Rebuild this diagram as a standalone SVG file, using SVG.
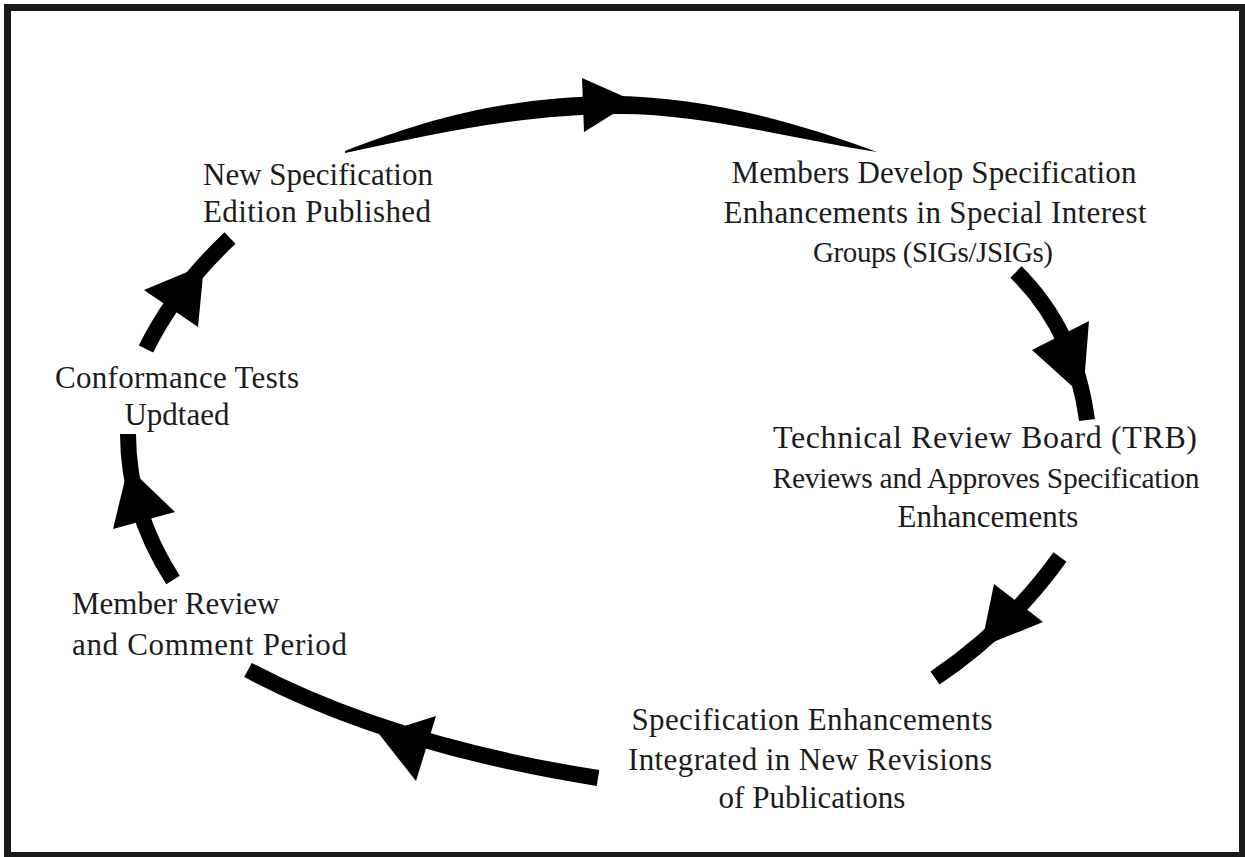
<svg xmlns="http://www.w3.org/2000/svg" width="1245" height="857" viewBox="0 0 1245 857">
  <style>
    .frame { fill: #ffffff; stroke: #1a1a1a; stroke-width: 7; }
    .shaft { fill: none; stroke: #000000; stroke-width: 16; stroke-linecap: butt; }
    .band { fill: #000000; }
    .head { fill: #000000; }
    .label { font-family: "Liberation Serif", "DejaVu Serif", serif; font-size: 31px; fill: #1c1c1c; text-anchor: middle; }
    .left { text-anchor: start; }
    .small { font-size: 29px; }
    .narrow { font-size: 29.5px; }
    .large { font-size: 32px; }
  </style>

  <rect class="frame" x="7.5" y="7.5" width="1235" height="848"/>

  <!-- connectors: curved arrows around the cycle -->
  <g id="connectors">
    <g id="arrow-top">
      <!-- tapered arc, thick in the middle and pointed at both ends -->
      <path class="band" d="M345,151 C420,122 500,97 610,96 C700,96 790,120 877,152 C790,138 700,114 620,114 C520,114 430,135 345,153 Z"/>
      <polygon class="head" points="582,78 634,101 584,132"/>
    </g>
    <g id="arrow-right-upper">
      <path class="shaft" d="M1016,272 Q1075,330 1087,420"/>
      <polygon class="head" points="1032,350 1089,321 1083,396"/>
    </g>
    <g id="arrow-right-lower">
      <path class="shaft" d="M1060,557 Q1010,627 935,678"/>
      <polygon class="head" points="994,584 1043,622 981,647"/>
    </g>
    <g id="arrow-bottom">
      <path class="shaft" d="M248,670 Q390,745 598,778"/>
      <polygon class="head" points="436,716 416,781 379,734"/>
    </g>
    <g id="arrow-left-lower">
      <path class="shaft" d="M173,580 Q128,510 128,434"/>
      <polygon class="head" points="113,529 175,512 128,467"/>
    </g>
    <g id="arrow-left-upper">
      <path class="shaft" d="M146,349 Q175,290 230,238" stroke-width="17"/>
      <polygon class="head" points="144,290 198,327 204,265"/>
    </g>
  </g>

  <g id="node-published">
    <text class="label" x="318" y="185">New Specification</text>
    <text class="label" x="317" y="222" textLength="228">Edition Published</text>
  </g>

  <g id="node-develop">
    <text class="label" x="934" y="183" textLength="405">Members Develop Specification</text>
    <text class="label" x="935" y="223" textLength="423">Enhancements in Special Interest</text>
    <text class="label small" x="933" y="262" textLength="240">Groups (SIGs/JSIGs)</text>
  </g>

  <g id="node-trb">
    <text class="label large" x="985" y="448" textLength="424">Technical Review Board (TRB)</text>
    <text class="label narrow" x="986" y="488" textLength="427">Reviews and Approves Specification</text>
    <text class="label" x="988" y="527">Enhancements</text>
  </g>

  <g id="node-integrated">
    <text class="label" x="812" y="730" textLength="361">Specification Enhancements</text>
    <text class="label" x="810" y="770" textLength="364">Integrated in New Revisions</text>
    <text class="label" x="812" y="808">of Publications</text>
  </g>

  <g id="node-member-review">
    <text class="label left" x="72" y="614">Member Review</text>
    <text class="label left" x="72" y="655" textLength="275">and Comment Period</text>
  </g>

  <g id="node-conformance">
    <text class="label" x="177" y="388" textLength="244">Conformance Tests</text>
    <text class="label" x="177" y="425">Updtaed</text>
  </g>
</svg>
